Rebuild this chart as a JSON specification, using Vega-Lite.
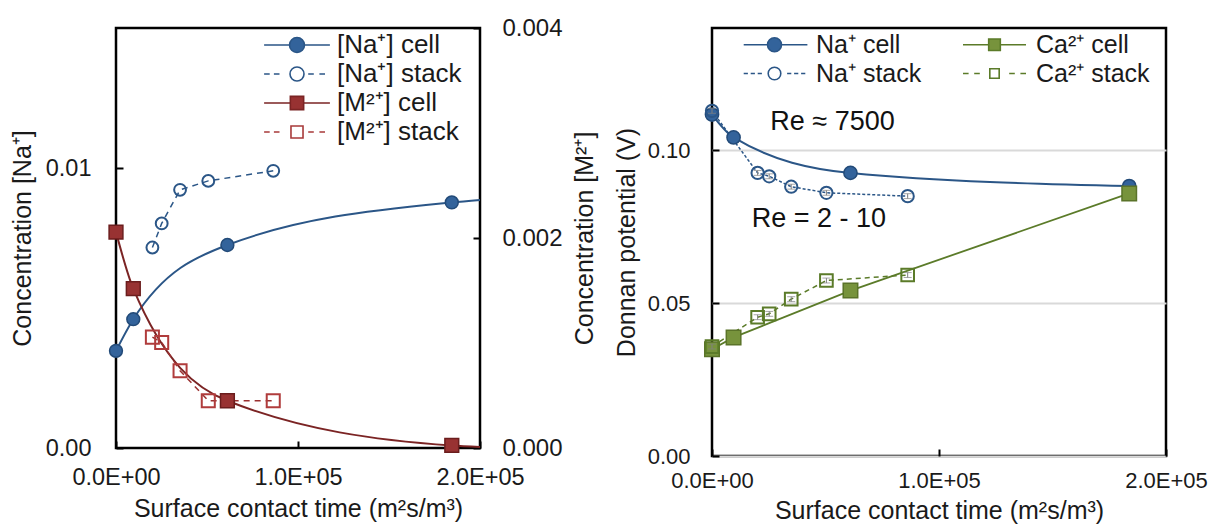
{
  "$schema": "https://vega.github.io/schema/vega-lite/v6.json",
  "background": "white",
  "padding": {"left": 9, "top": 14, "right": 0, "bottom": 0},
  "bounds": "flush",
  "spacing": 232,
  "resolve": {
    "scale": {"fill": "independent", "stroke": "independent", "shape": "independent"},
    "legend": {"fill": "independent", "stroke": "independent", "shape": "independent"}
  },
  "config": {
    "font": "Liberation Sans",
    "view": {"stroke": "black", "strokeWidth": 2.5},
    "axis": {
      "domain": false, "grid": false,
      "tickColor": "black", "tickWidth": 2, "tickSize": -7,
      "labelFont": "Liberation Sans", "labelFontSize": 22, "labelColor": "#1a1a1a",
      "titleFont": "Liberation Sans", "titleFontSize": 25, "titleFontWeight": "normal", "titleColor": "#1a1a1a",
      "labelFlush": false, "labelOverlap": false
    },
    "legend": {"labelFont": "Liberation Sans", "labelColor": "#1a1a1a", "labelLimit": 0}
  },
  "datasets": {
    "left": [
      {"ion": "Na", "kind": "cell", "x": 0, "y": 0.00347},
      {"ion": "Na", "kind": "cell", "x": 9500, "y": 0.0046},
      {"ion": "Na", "kind": "cell", "x": 61200, "y": 0.00725},
      {"ion": "Na", "kind": "cell", "x": 184500, "y": 0.00877},
      {"ion": "Na", "kind": "end", "x": 200000, "y": 0.00886},
      {"ion": "Na", "kind": "stack", "x": 20000, "y": 0.00716},
      {"ion": "Na", "kind": "stack", "x": 25100, "y": 0.00802},
      {"ion": "Na", "kind": "stack", "x": 35200, "y": 0.00922},
      {"ion": "Na", "kind": "stack", "x": 50700, "y": 0.00954},
      {"ion": "Na", "kind": "stack", "x": 86400, "y": 0.0099},
      {"ion": "M", "kind": "cell", "x": 0, "y": 0.002056},
      {"ion": "M", "kind": "cell", "x": 9500, "y": 0.001517},
      {"ion": "M", "kind": "cell", "x": 61200, "y": 0.00045},
      {"ion": "M", "kind": "cell", "x": 184500, "y": 0.000024},
      {"ion": "M", "kind": "end", "x": 200000, "y": 0.00001},
      {"ion": "M", "kind": "stack", "x": 20000, "y": 0.001056},
      {"ion": "M", "kind": "stack", "x": 25100, "y": 0.001005},
      {"ion": "M", "kind": "stack", "x": 35200, "y": 0.000736},
      {"ion": "M", "kind": "stack", "x": 50700, "y": 0.00045},
      {"ion": "M", "kind": "stack", "x": 86400, "y": 0.00045}
    ],
    "right": [
      {"ion": "Na", "kind": "cell", "x": 0, "y": 0.1117},
      {"ion": "Na", "kind": "cell", "x": 9500, "y": 0.1042},
      {"ion": "Na", "kind": "cell", "x": 61000, "y": 0.0926},
      {"ion": "Na", "kind": "cell", "x": 183800, "y": 0.0883},
      {"ion": "Na", "kind": "stack", "x": 0, "y": 0.1129, "err": 0.0008},
      {"ion": "Na", "kind": "stack", "x": 20100, "y": 0.0926, "err": 0.0008},
      {"ion": "Na", "kind": "stack", "x": 25200, "y": 0.0915, "err": 0.0008},
      {"ion": "Na", "kind": "stack", "x": 34900, "y": 0.0881, "err": 0.0008},
      {"ion": "Na", "kind": "stack", "x": 50400, "y": 0.0861, "err": 0.0008},
      {"ion": "Na", "kind": "stack", "x": 86200, "y": 0.085, "err": 0.0008},
      {"ion": "Ca", "kind": "cell", "x": 0, "y": 0.0349},
      {"ion": "Ca", "kind": "cell", "x": 9500, "y": 0.0388},
      {"ion": "Ca", "kind": "cell", "x": 61000, "y": 0.0541},
      {"ion": "Ca", "kind": "cell", "x": 183800, "y": 0.0859},
      {"ion": "Ca", "kind": "stack", "x": 0, "y": 0.0358, "err": 0.0008},
      {"ion": "Ca", "kind": "stack", "x": 20100, "y": 0.0454, "err": 0.0008},
      {"ion": "Ca", "kind": "stack", "x": 25200, "y": 0.0465, "err": 0.0008},
      {"ion": "Ca", "kind": "stack", "x": 34900, "y": 0.0513, "err": 0.0008},
      {"ion": "Ca", "kind": "stack", "x": 50400, "y": 0.0574, "err": 0.0008},
      {"ion": "Ca", "kind": "stack", "x": 86200, "y": 0.0592, "err": 0.0008}
    ]
  },
  "hconcat": [
    {
      "width": 364,
      "height": 420,
      "data": {"name": "left"},
      "layer": [
        {
          "transform": [{"filter": "datum.ion == 'Na'"}],
          "encoding": {
            "x": {"field": "x", "type": "quantitative", "scale": {"domain": [0, 200000], "nice": false},
              "axis": {"title": "Surface contact time (m²s/m³)", "values": [0, 100000, 200000], "labelExpr": "replace(upper(format(datum.value, '.1e')), '+', '+0')", "labelFontSize": 23.5, "labelPadding": 24, "titlePadding": 8}},
            "y": {"field": "y", "type": "quantitative", "scale": {"domain": [0, 0.015], "nice": false},
              "axis": {"orient": "left", "title": "Concentration [Na⁺]", "values": [0, 0.01], "format": ".2f", "labelFontSize": 23.5, "labelPadding": 32, "titlePadding": 10}}
          },
          "layer": [
            {"transform": [{"filter": "datum.kind != 'stack'"}], "mark": {"type": "line", "interpolate": "monotone", "color": "#2b5687", "strokeWidth": 2}},
            {"transform": [{"filter": "datum.kind == 'stack'"}], "mark": {"type": "line", "color": "#2b5687", "strokeWidth": 1.5, "strokeDash": [6, 5]}},
            {"transform": [{"filter": "datum.kind == 'cell'"}], "mark": {"type": "point", "shape": "circle", "filled": true, "size": 165, "fill": "#33639b", "stroke": "#224a78", "strokeWidth": 1.5, "opacity": 1}},
            {"transform": [{"filter": "datum.kind == 'stack'"}], "mark": {"type": "point", "shape": "circle", "filled": false, "size": 140, "stroke": "#2b5687", "strokeWidth": 2, "opacity": 1}},
            {
              "mark": {"type": "point", "opacity": 0},
              "encoding": {
                "fill": {"field": "series", "type": "nominal",
                  "scale": {"domain": ["[Na⁺] cell", "[Na⁺] stack", "\u00a0[M²⁺] cell", "\u00a0[M²⁺] stack"], "range": ["#33639b", "white", "#983232", "white"]},
                  "legend": {"title": null, "orient": "top-left", "offset": 4, "padding": 0, "symbolSize": 196, "symbolOffset": 164, "symbolStrokeWidth": 1.6, "symbolOpacity": 1, "labelFontSize": 26, "labelOffset": 27, "rowPadding": 3}},
                "stroke": {"field": "series", "type": "nominal",
                  "scale": {"domain": ["[Na⁺] cell", "[Na⁺] stack", "\u00a0[M²⁺] cell", "\u00a0[M²⁺] stack"], "range": ["#2b5687", "#2b5687", "#7b2424", "#a83a3a"]},
                  "legend": {"title": null, "orient": "top-left", "offset": 4, "padding": 0, "symbolSize": 196, "symbolOffset": 164, "symbolStrokeWidth": 1.6, "symbolOpacity": 1, "labelFontSize": 26, "labelOffset": 27, "rowPadding": 3}},
                "shape": {"field": "series", "type": "nominal",
                  "scale": {"domain": ["[Na⁺] cell", "[Na⁺] stack", "\u00a0[M²⁺] cell", "\u00a0[M²⁺] stack"],
                    "range": [
                      "M-4.7,0H-1.07M1.07,0H4.7M-1.07,0A1.07,1.07,0,1,0,1.07,0A1.07,1.07,0,1,0,-1.07,0Z",
                      "M-4.7,0H-3.9M-3.3,0H-2.5M1.6,0H2.4M3.2,0H4M-1,0A1,1,0,1,0,1,0A1,1,0,1,0,-1,0Z",
                      "M-4.7,0H-0.95M0.95,0H4.7M-0.95,-0.95H0.95V0.95H-0.95Z",
                      "M-4.7,0H-3.9M-3.3,0H-2.5M1.6,0H2.4M3.2,0H4M-0.86,-0.86H0.86V0.86H-0.86Z"
                    ]},
                  "legend": {"title": null, "orient": "top-left", "offset": 4, "padding": 0, "symbolSize": 196, "symbolOffset": 164, "symbolStrokeWidth": 1.6, "symbolOpacity": 1, "labelFontSize": 26, "labelOffset": 27, "rowPadding": 3}}
              }
            }
          ]
        },
        {
          "transform": [{"filter": "datum.ion == 'M'"}],
          "encoding": {
            "x": {"field": "x", "type": "quantitative", "scale": {"domain": [0, 200000], "nice": false},
              "axis": {"title": "Surface contact time (m²s/m³)", "values": [0, 100000, 200000], "labelExpr": "replace(upper(format(datum.value, '.1e')), '+', '+0')", "labelFontSize": 23.5, "labelPadding": 24, "titlePadding": 8}},
            "y": {"field": "y", "type": "quantitative", "scale": {"domain": [0, 0.004], "nice": false},
              "axis": {"orient": "right", "title": "Concentration [M²⁺]", "values": [0, 0.002, 0.004], "format": ".3f", "labelFontSize": 24, "labelPadding": 29, "titlePadding": 10, "titleAngle": 270, "titleBaseline": "top"}}
          },
          "layer": [
            {"transform": [{"filter": "datum.kind != 'stack'"}], "mark": {"type": "line", "interpolate": "monotone", "color": "#7b2424", "strokeWidth": 2}},
            {"transform": [{"filter": "datum.kind == 'stack'"}], "mark": {"type": "line", "color": "#9b3030", "strokeWidth": 1.5, "strokeDash": [6, 5]}},
            {"transform": [{"filter": "datum.kind == 'cell'"}], "mark": {"type": "point", "shape": "square", "filled": true, "size": 190, "fill": "#983232", "stroke": "#6b1d1d", "strokeWidth": 1.5, "opacity": 1}},
            {"transform": [{"filter": "datum.kind == 'stack'"}], "mark": {"type": "point", "shape": "square", "filled": false, "size": 170, "stroke": "#b03c3c", "strokeWidth": 2, "opacity": 1}}
          ]
        }
      ],
      "resolve": {"scale": {"y": "independent"}}
    },
    {
      "width": 454,
      "height": 428,
      "data": {"name": "right"},
      "encoding": {
        "x": {"field": "x", "type": "quantitative", "scale": {"domain": [0, 200000], "nice": false},
          "axis": {"title": "Surface contact time (m²s/m³)", "values": [0, 100000, 200000], "labelExpr": "replace(upper(format(datum.value, '.1e')), '+', '+0')", "labelPadding": 21, "titlePadding": 7}},
        "y": {"field": "y", "type": "quantitative", "scale": {"domain": [0, 0.14], "nice": false},
          "axis": {"title": "Donnan potential (V)", "values": [0, 0.05, 0.1], "format": ".2f", "grid": true, "gridColor": "#d9d9d9", "gridWidth": 2, "labelPadding": 29, "titlePadding": 8}}
      },
      "layer": [
        {"transform": [{"filter": "datum.ion == 'Na' && datum.kind == 'cell'"}], "mark": {"type": "line", "interpolate": "monotone", "color": "#2b5687", "strokeWidth": 2}},
        {"transform": [{"filter": "datum.ion == 'Na' && datum.kind == 'stack'"}], "mark": {"type": "line", "color": "#2b5687", "strokeWidth": 1.5, "strokeDash": [3, 2]}},
        {"transform": [{"filter": "datum.ion == 'Ca' && datum.kind == 'cell'"}], "mark": {"type": "line", "color": "#5b7b29", "strokeWidth": 1.8}},
        {"transform": [{"filter": "datum.ion == 'Ca' && datum.kind == 'stack'"}], "mark": {"type": "line", "color": "#5b7b29", "strokeWidth": 1.5, "strokeDash": [5, 4]}},
        {"transform": [{"filter": "datum.ion == 'Na' && datum.kind == 'cell'"}], "mark": {"type": "point", "shape": "circle", "filled": true, "size": 175, "fill": "#33639b", "stroke": "#224a78", "strokeWidth": 1.5, "opacity": 1}},
        {"transform": [{"filter": "datum.ion == 'Na' && datum.kind == 'stack'"}], "mark": {"type": "point", "shape": "circle", "filled": false, "size": 150, "stroke": "#2b5687", "strokeWidth": 2, "opacity": 1}},
        {"transform": [{"filter": "datum.ion == 'Ca' && datum.kind == 'cell'"}], "mark": {"type": "point", "shape": "square", "filled": true, "size": 210, "fill": "#77933c", "stroke": "#5a7329", "strokeWidth": 1.5, "opacity": 1}},
        {"transform": [{"filter": "datum.ion == 'Ca' && datum.kind == 'stack'"}], "mark": {"type": "point", "shape": "square", "filled": false, "size": 160, "stroke": "#5b7b29", "strokeWidth": 2, "opacity": 1}},
        {"transform": [{"filter": "datum.kind == 'stack'"}], "mark": {"type": "errorbar", "ticks": {"size": 8, "color": "#808080"}, "rule": {"color": "#808080"}, "color": "#808080", "thickness": 1}, "encoding": {"yError": {"field": "err"}}},
        {
          "data": {"values": [{"label": "Re ≈ 7500", "x": 25700, "y": 0.1065}, {"label": "Re = 2 - 10", "x": 17500, "y": 0.0748}]},
          "mark": {"type": "text", "align": "left", "baseline": "alphabetic", "fontSize": 27, "font": "Liberation Sans", "color": "#111"},
          "encoding": {"text": {"field": "label"}}
        },
        {
          "mark": {"type": "point", "opacity": 0},
          "encoding": {
            "fill": {"field": "series", "type": "nominal",
              "scale": {"domain": ["Na⁺ cell", "Na⁺ stack", "Ca²⁺ cell", "Ca²⁺ stack"], "range": ["#33639b", "white", "#77933c", "white"]},
              "legend": {"title": null, "orient": "top-left", "offset": 4, "padding": 0, "columns": 2, "columnPadding": 14, "symbolSize": 196, "symbolOffset": 46, "symbolStrokeWidth": 1.6, "symbolOpacity": 1, "labelFontSize": 25, "labelOffset": 29, "rowPadding": 3}},
            "stroke": {"field": "series", "type": "nominal",
              "scale": {"domain": ["Na⁺ cell", "Na⁺ stack", "Ca²⁺ cell", "Ca²⁺ stack"], "range": ["#2b5687", "#2b5687", "#5b7b29", "#5b7b29"]},
              "legend": {"title": null, "orient": "top-left", "offset": 4, "padding": 0, "columns": 2, "columnPadding": 14, "symbolSize": 196, "symbolOffset": 46, "symbolStrokeWidth": 1.6, "symbolOpacity": 1, "labelFontSize": 25, "labelOffset": 29, "rowPadding": 3}},
            "shape": {"field": "series", "type": "nominal",
              "scale": {"domain": ["Na⁺ cell", "Na⁺ stack", "Ca²⁺ cell", "Ca²⁺ stack"],
                "range": [
                  "M-4.4,0H-1M1,0H4.7M-1,0A1,1,0,1,0,1,0A1,1,0,1,0,-1,0Z",
                  "M-4.4,0H-3.8M-3.4,0H-2.8M-2.4,0H-1.8M1.8,0H2.4M2.8,0H3.4M3.8,0H4.4M-0.9,0A0.9,0.9,0,1,0,0.9,0A0.9,0.9,0,1,0,-0.9,0Z",
                  "M-4.5,0H-0.83M0.83,0H4.5M-0.83,-0.83H0.83V0.83H-0.83Z",
                  "M-4.5,0H-3.7M-2.9,0H-2.1M2.1,0H2.9M3.7,0H4.5M-0.67,-0.67H0.67V0.67H-0.67Z"
                ]},
              "legend": {"title": null, "orient": "top-left", "offset": 4, "padding": 0, "columns": 2, "columnPadding": 14, "symbolSize": 196, "symbolOffset": 46, "symbolStrokeWidth": 1.6, "symbolOpacity": 1, "labelFontSize": 25, "labelOffset": 29, "rowPadding": 3}}
          }
        }
      ]
    }
  ]
}
